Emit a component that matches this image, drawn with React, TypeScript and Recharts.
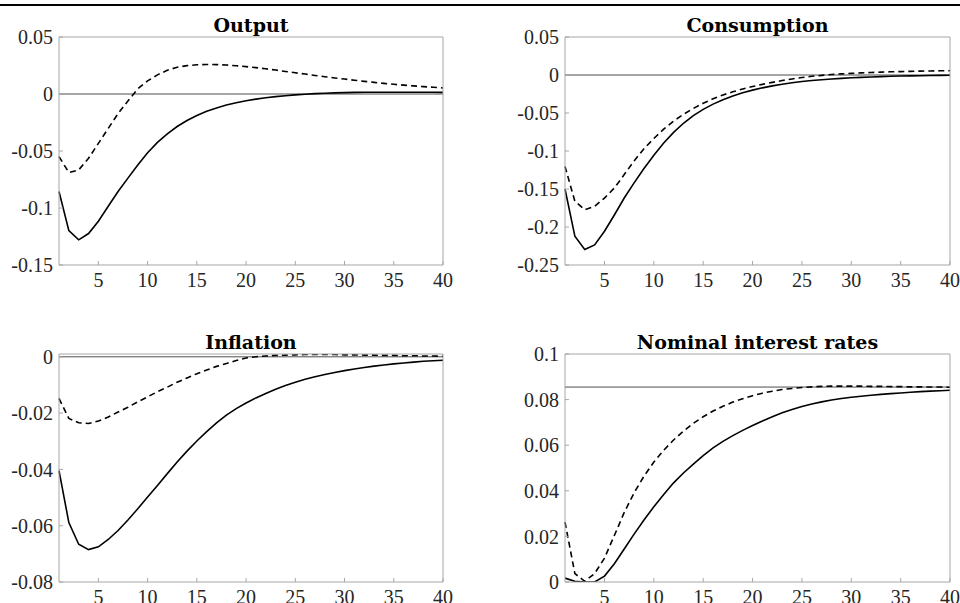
import { LineChart, Line, XAxis, YAxis, ReferenceLine } from "recharts"

const periods = [
  1, 2, 3, 4, 5, 6, 7, 8, 9, 10, 11, 12, 13, 14, 15, 16, 17, 18, 19, 20,
  21, 22, 23, 24, 25, 26, 27, 28, 29, 30, 31, 32, 33, 34, 35, 36, 37, 38, 39, 40,
]
const xTicks = [5, 10, 15, 20, 25, 30, 35, 40]

// Output
const outputSolid = [
  -0.0855, -0.1198, -0.1279, -0.1224, -0.1116, -0.0985, -0.0855, -0.0738, -0.0622, -0.0515,
  -0.0425, -0.035, -0.0285, -0.0232, -0.0188, -0.0152, -0.0122, -0.0097, -0.0076, -0.0059,
  -0.0045, -0.0033, -0.0023, -0.0015, -0.0008, -0.0002, 0.0003, 0.0007, 0.001, 0.0012,
  0.0014, 0.0015, 0.0016, 0.0016, 0.0016, 0.0016, 0.0016, 0.0015, 0.0015, 0.0014,
]
const outputDashed = [
  -0.0549, -0.0689, -0.0666, -0.0564, -0.0433, -0.0302, -0.0172, -0.0061, 0.0045, 0.0115,
  0.0168, 0.0208, 0.0235, 0.0249, 0.0256, 0.0259, 0.0258, 0.0254, 0.0248, 0.024,
  0.0231, 0.0221, 0.021, 0.0198, 0.0186, 0.0175, 0.0163, 0.0152, 0.0141, 0.0131,
  0.0121, 0.0111, 0.0102, 0.0093, 0.0085, 0.0078, 0.0071, 0.0065, 0.0059, 0.0053,
]
const outputTicks = [-0.15, -0.1, -0.05, 0, 0.05]

// Consumption
const consumptionSolid = [
  -0.15, -0.2122, -0.2297, -0.2235, -0.2056, -0.1842, -0.1619, -0.142, -0.123, -0.1055,
  -0.0895, -0.0755, -0.0635, -0.0535, -0.0452, -0.0383, -0.0325, -0.0276, -0.0234, -0.0199,
  -0.0169, -0.0143, -0.0121, -0.0102, -0.0086, -0.0073, -0.0062, -0.0052, -0.0044, -0.0037,
  -0.0031, -0.0026, -0.0021, -0.0017, -0.0014, -0.0011, -0.0009, -0.0007, -0.0005, -0.0004,
]
const consumptionDashed = [
  -0.1203, -0.1662, -0.1772, -0.1728, -0.1619, -0.1487, -0.131, -0.113, -0.097, -0.0835,
  -0.0712, -0.0606, -0.0517, -0.044, -0.0372, -0.0313, -0.0263, -0.0221, -0.0184, -0.0152,
  -0.0123, -0.0097, -0.0073, -0.0052, -0.0033, -0.0017, -0.0005, 0.0006, 0.0015, 0.0022,
  0.0028, 0.0033, 0.0038, 0.0042, 0.0045, 0.0048, 0.0051, 0.0053, 0.0055, 0.0057,
]
const consumptionTicks = [-0.25, -0.2, -0.15, -0.1, -0.05, 0, 0.05]

// Inflation
const inflationSolid = [
  -0.0404, -0.0589, -0.0666, -0.0685, -0.0675, -0.0649, -0.0617, -0.058, -0.054, -0.0498,
  -0.0457, -0.0415, -0.0374, -0.0335, -0.0299, -0.0266, -0.0235, -0.0207, -0.0184, -0.0164,
  -0.0146, -0.013, -0.0115, -0.0102, -0.009, -0.008, -0.0071, -0.0063, -0.0056, -0.0049,
  -0.0043, -0.0038, -0.0033, -0.0029, -0.0025, -0.0022, -0.0019, -0.0016, -0.0014, -0.0012,
]
const inflationDashed = [
  -0.0148, -0.0219, -0.0234, -0.0237, -0.0228, -0.0214, -0.0196, -0.0179, -0.016, -0.0142,
  -0.0124, -0.0108, -0.009, -0.0075, -0.006, -0.0047, -0.0034, -0.0024, -0.0013, -0.0004,
  0.0, 0.0003, 0.0005, 0.0006, 0.0007, 0.0008, 0.0008, 0.0008, 0.0008, 0.0007,
  0.0007, 0.0006, 0.0006, 0.0005, 0.0005, 0.0004, 0.0004, 0.0003, 0.0003, 0.0002,
]
const inflationTicks = [-0.08, -0.06, -0.04, -0.02, 0]

// Nominal interest rates
const interestSolid = [
  0.0017, 0.0003, 0.0, 0.0, 0.0026, 0.008, 0.0145, 0.021, 0.0272, 0.033,
  0.0384, 0.0435, 0.0478, 0.0517, 0.0554, 0.0588, 0.0617, 0.0642, 0.0665, 0.0686,
  0.0706, 0.0725, 0.0742, 0.0757, 0.077, 0.0781, 0.079, 0.0798, 0.0805, 0.081,
  0.0815, 0.0819, 0.0823, 0.0826, 0.0829, 0.0832, 0.0835, 0.0837, 0.0839, 0.0841,
]
const interestDashed = [
  0.0263, 0.0037, 0.0003, 0.0037, 0.0105, 0.0204, 0.0305, 0.0391, 0.0464, 0.0526,
  0.0578, 0.0623, 0.0662, 0.0696, 0.0725, 0.075, 0.0771, 0.0789, 0.0804, 0.0817,
  0.0828, 0.0837, 0.0844, 0.0849, 0.0853, 0.0856, 0.0858, 0.0859, 0.0859, 0.0859,
  0.0859, 0.0858, 0.0858, 0.0857, 0.0857, 0.0856, 0.0856, 0.0855, 0.0855, 0.0854,
]
const interestTicks = [0, 0.02, 0.04, 0.06, 0.08, 0.1]
const interestSteadyState = 0.0855

const tickFont = "Liberation Serif"
const titleFont = "DejaVu Serif"
const axisColor = "#a6a6a6"
const tickStyle = { fill: "#262626", fontSize: 20, fontFamily: tickFont }

type PanelProps = {
  title: string
  solid: number[]
  dashed: number[]
  yDomain: [number, number]
  yTicks: number[]
  refValue: number
  left: number
  top: number
  height: number
  yAxisWidth: number
  marginTop: number
  marginRight: number
  xAxisHeight: number
  marginBottom: number
  titleTop: number
}

function Panel(p: PanelProps) {
  const data = periods.map((t, i) => ({ t, solid: p.solid[i], dashed: p.dashed[i] }))
  const plotLeft = p.yAxisWidth
  const plotWidth = 480 - p.yAxisWidth - p.marginRight - 1
  return (
    <div
      style={{
        position: "absolute",
        left: p.left,
        top: p.top,
        width: 480,
        height: p.height,
        fontFamily: tickFont,
      }}
    >
      <div
        style={{
          position: "absolute",
          left: plotLeft,
          width: plotWidth,
          top: p.titleTop,
          lineHeight: "24px",
          textAlign: "center",
          fontFamily: titleFont,
          fontWeight: "bold",
          fontSize: 19,
          color: "#000",
          whiteSpace: "nowrap",
        }}
      >
        {p.title}
      </div>
      <LineChart
        width={480}
        height={p.height}
        data={data}
        margin={{ top: p.marginTop, right: p.marginRight, bottom: p.marginBottom, left: 0 }}
        style={{ fontFamily: tickFont }}
      >
        <XAxis
          dataKey="t"
          type="number"
          domain={[1, 40]}
          ticks={xTicks}
          interval={0}
          height={p.xAxisHeight}
          stroke={axisColor}
          tickSize={-4}
          tickMargin={12}
          tick={tickStyle}
        />
        <XAxis
          xAxisId="top"
          orientation="top"
          dataKey="t"
          type="number"
          domain={[1, 40]}
          ticks={xTicks}
          interval={0}
          height={1}
          stroke={axisColor}
          tickSize={-4}
          tick={false}
        />
        <YAxis
          type="number"
          domain={p.yDomain}
          ticks={p.yTicks}
          interval={0}
          width={p.yAxisWidth}
          stroke={axisColor}
          tickSize={-4}
          tickMargin={10}
          tick={tickStyle}
          allowDataOverflow
        />
        <YAxis
          yAxisId="right"
          orientation="right"
          type="number"
          domain={p.yDomain}
          ticks={p.yTicks}
          interval={0}
          width={1}
          stroke={axisColor}
          tickSize={-4}
          tick={false}
          allowDataOverflow
        />
        <ReferenceLine y={p.refValue} stroke="#4d4d4d" strokeWidth={1} />
        <Line
          type="linear"
          dataKey="dashed"
          stroke="#000"
          strokeWidth={1.6}
          strokeDasharray="6 4"
          dot={false}
          isAnimationActive={false}
        />
        <Line
          type="linear"
          dataKey="solid"
          stroke="#000"
          strokeWidth={1.6}
          dot={false}
          isAnimationActive={false}
        />
      </LineChart>
    </div>
  )
}

export default function App() {
  return (
    <div style={{ position: "relative", width: 960, height: 603, background: "#fff", overflow: "hidden" }}>
      <style>{`body { margin: 0; }`}</style>
      <div style={{ position: "absolute", left: 0, top: 4, width: 960, height: 2, background: "#000" }} />
      <Panel
        title="Output"
        solid={outputSolid}
        dashed={outputDashed}
        yDomain={[-0.15, 0.05]}
        yTicks={outputTicks}
        refValue={0}
        left={0}
        top={0}
        height={300}
        yAxisWidth={59}
        marginTop={36}
        marginRight={36}
        xAxisHeight={30}
        marginBottom={5}
        titleTop={13}
      />
      <Panel
        title="Consumption"
        solid={consumptionSolid}
        dashed={consumptionDashed}
        yDomain={[-0.25, 0.05]}
        yTicks={consumptionTicks}
        refValue={0}
        left={480}
        top={0}
        height={300}
        yAxisWidth={85}
        marginTop={36}
        marginRight={9}
        xAxisHeight={30}
        marginBottom={5}
        titleTop={13}
      />
      <Panel
        title="Inflation"
        solid={inflationSolid}
        dashed={inflationDashed}
        yDomain={[-0.08, 0.001]}
        yTicks={inflationTicks}
        refValue={0}
        left={0}
        top={300}
        height={303}
        yAxisWidth={59}
        marginTop={53}
        marginRight={36}
        xAxisHeight={21}
        marginBottom={0}
        titleTop={30}
      />
      <Panel
        title="Nominal interest rates"
        solid={interestSolid}
        dashed={interestDashed}
        yDomain={[0, 0.1]}
        yTicks={interestTicks}
        refValue={interestSteadyState}
        left={480}
        top={300}
        height={303}
        yAxisWidth={85}
        marginTop={53}
        marginRight={9}
        xAxisHeight={21}
        marginBottom={0}
        titleTop={30}
      />
    </div>
  )
}
